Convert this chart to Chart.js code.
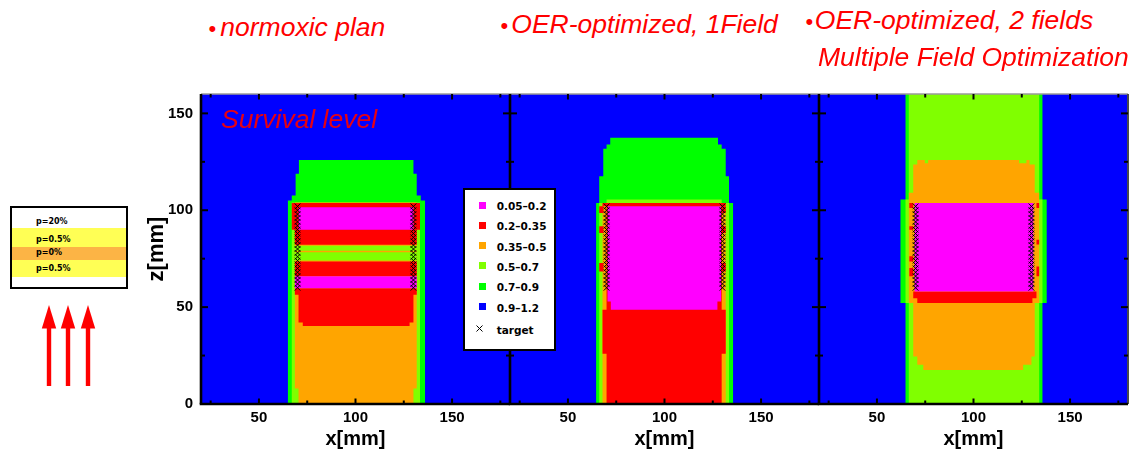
<!DOCTYPE html>
<html>
<head>
<meta charset="utf-8">
<script src="https://cdn.jsdelivr.net/npm/chart.js@4.4.1/dist/chart.umd.min.js"></script>
<style>
  html, body { margin: 0; padding: 0; background: #fff; }
  #stage { position: relative; width: 1142px; height: 452px; overflow: hidden; background: #fff;
           font-family: "Liberation Sans", Arial, sans-serif; }
  .title { position: absolute; font-style: italic; font-size: 26.5px; line-height: 30px; color: #ff0000; white-space: nowrap; z-index: 6; }
  .title .dot { font-size: 22px; font-style: normal; }
  .panel { position: absolute; top: 84px; }
  .panel canvas { display: block; }
  #survival { position: absolute; left: 221px; top: 104px; font-style: italic; font-size: 26.5px; line-height: 30px;
              color: #e60012; white-space: nowrap; z-index: 6; }
  #levels { position: absolute; left: 463px; top: 188px; width: 89px; height: 159px; border: 2px solid #000;
            background: #fff; z-index: 7; }
  .lrow { position: absolute; left: 14px; height: 20px; display: flex; align-items: center; white-space: nowrap;
          font-family: "DejaVu Sans", sans-serif; font-weight: bold; font-size: 10.5px; color: #000; }
  .sw { width: 7px; height: 7px; margin-right: 10.7px; transform: translateY(-1px); }
  .mk { width: 7px; height: 7px; margin-right: 10.7px; transform: translate(-3px, -2px); }
  #plan { position: absolute; left: 10px; top: 206px; width: 113.5px; height: 79px; border: 2px solid #000; background: #fff; }
  .band { position: absolute; left: 0; right: 0; }
  .prow { position: absolute; left: 24px; font-family: "DejaVu Sans", sans-serif; font-weight: bold; font-size: 8px;
          line-height: 10px; color: #000; white-space: nowrap; }
  #beams { position: absolute; left: 0; top: 0; }
</style>
</head>
<body>
<div id="stage">
  <div class="title" style="left:208.6px; top:12.3px;"><span class="dot">•</span><span style="margin-left:4px">normoxic plan</span></div>
  <div class="title" style="left:500.6px; top:8.8px;"><span class="dot">•</span><span style="margin-left:3px">OER-optimized, 1Field</span></div>
  <div class="title" style="left:805.5px; top:4.8px;"><span class="dot">•</span><span style="margin-left:1.6px">OER-optimized, 2 fields</span></div>
  <div class="title" style="left:818px; top:41.8px;">Multiple Field Optimization</div>

  <div class="panel" style="left:140px;"><canvas id="normoxic" width="375" height="368"></canvas></div>
  <div class="panel" style="left:500px;"><canvas id="oneField" width="324" height="368"></canvas></div>
  <div class="panel" style="left:809px;"><canvas id="twoFields" width="324" height="368"></canvas></div>

  <div id="survival">Survival level</div>
  <div id="levels"></div>

  <div id="plan">
    <div class="band" style="top:19.7px; height:19px; background:#ffff55;"></div>
    <div class="band" style="top:38.7px; height:13.3px; background:#fcb445;"></div>
    <div class="band" style="top:52px; height:17.3px; background:#ffff55;"></div>
    <div class="prow" style="top:9px;">p=20%</div>
    <div class="prow" style="top:27px;">p=0.5%</div>
    <div class="prow" style="top:40.3px;">p=0%</div>
    <div class="prow" style="top:56.3px;">p=0.5%</div>
  </div>

  <svg id="beams" width="140" height="452" viewBox="0 0 140 452">
    <g fill="#ff0000">
      <rect x="46.8" y="326" width="4.4" height="60"/>
      <polygon points="49,305 41.8,328.5 56.2,328.5"/>
      <rect x="65.8" y="326" width="4.4" height="60"/>
      <polygon points="68,305 60.8,328.5 75.2,328.5"/>
      <rect x="85.8" y="326" width="4.4" height="60"/>
      <polygon points="88,305 80.8,328.5 95.2,328.5"/>
    </g>
  </svg>
</div>

<script>
// Survival-level classes (legend order) and their fill colours
const levelLabels = ['0.05–0.2', '0.2–0.35', '0.35–0.5', '0.5–0.7', '0.7–0.9', '0.9–1.2'];
const levelColors = ['#ff00ff', '#ff0000', '#ffa500', '#80ff00', '#00ff00', '#0000ff'];
const PINK = 0, RED = 1, ORANGE = 2, LIME = 3, GREEN = 4, BLUE = 5;

// Axis tick values (mm)
const xTickValues = [50, 100, 150];
const yTickValues = [0, 50, 100, 150];
const xTickMarks = [25, 50, 75, 100, 125, 150, 175];
const yTickMarks = [25, 50, 75, 100, 125, 150];

// Target outline points (x columns and z rows, mm)
const targetX = [70, 130];
const targetZ = [60, 62, 64, 66, 68, 70, 72, 74, 76, 78, 80, 82, 84, 86, 88, 90, 92, 94, 96, 98, 100, 102];

// Whole computed field, survival 0.9-1.2
const fieldArea = [[20, 0], [20, 160], [180, 160], [180, 0]];

// --- normoxic plan: iso-survival regions [x, z] in mm ---
const nGreen = [[65, 0], [65, 105], [67, 105], [67, 107.6], [69, 107.6], [69, 118.8], [70.7, 118.8], [70.7, 125.9],
                [130, 125.9], [130, 118.8], [131.7, 118.8], [131.7, 107.6], [133.8, 107.6], [133.8, 105], [136, 105], [136, 0]];
const nLime = [[67, 0], [67, 104], [133.4, 104], [133.4, 0]];
const nOrange = [[70.5, 0], [70.5, 8], [68.6, 8], [68.6, 104], [131.7, 104], [131.7, 8], [130, 8], [130, 0]];
const nRedUpper = [[68.6, 82.2], [68.6, 90], [67, 90], [67, 103.8], [133.4, 103.8], [133.4, 90], [131.7, 90], [131.7, 82.2]];
const nLimeBand = [[68.6, 74.1], [68.6, 81.7], [131.7, 81.7], [131.7, 74.1]];
const nOrangeLine = [[68.6, 78.3], [68.6, 79.1], [131.7, 79.1], [131.7, 78.3]];
const nRedMiddle = [[68.6, 65.9], [68.6, 73.6], [131.7, 73.6], [131.7, 65.9]];
const nRedLower = [[72.7, 40.3], [72.7, 42.1], [70.5, 42.1], [70.5, 56.4], [68.6, 56.4], [68.6, 59.8],
                   [131.7, 59.8], [131.7, 56.4], [130, 56.4], [130, 42.1], [128, 42.1], [128, 40.3]];
const nPinkUpper = [[70.5, 90], [70.5, 101.6], [130, 101.6], [130, 90]];
const nPinkLower = [[68.6, 59.8], [68.6, 65.9], [131.7, 65.9], [131.7, 59.8]];

// --- OER-optimized, one field ---
const fGreen = [[64.6, 0], [64.6, 103.8], [66.2, 103.8], [66.2, 117.6], [68.3, 117.6], [68.3, 131.7], [70, 131.7], [70, 134],
                [71.9, 134], [71.9, 137.4], [127.7, 137.4], [127.7, 134], [129.6, 134], [129.6, 131.7], [131.7, 131.7],
                [131.7, 117.6], [133.4, 117.6], [133.4, 103.8], [135.5, 103.8], [135.5, 0]];
const fLime = [[66.2, 0], [66.2, 103.8], [70, 103.8], [70, 105.5], [129.6, 105.5], [129.6, 103.8], [133.4, 103.8], [133.4, 0]];
const fOrange = [[67.9, 0], [67.9, 103.8], [131.7, 103.8], [131.7, 0]];
const fRed = [[70, 0], [70, 26], [67.9, 26], [67.9, 48.6], [70, 48.6], [70, 102.1], [67.9, 102.1], [67.9, 103.8],
              [131.7, 103.8], [131.7, 102.1], [129.6, 102.1], [129.6, 48.6], [131.7, 48.6], [131.7, 26], [129.6, 26], [129.6, 0]];
const fRedEdge1 = [[66.2, 98.6], [66.2, 102.1], [68.4, 102.1], [68.4, 98.6]];
const fRedEdge2 = [[66.2, 88.3], [66.2, 91.7], [68.4, 91.7], [68.4, 88.3]];
const fRedEdge3 = [[66.2, 68.4], [66.2, 72.8], [68.4, 72.8], [68.4, 68.4]];
const fRedEdge4 = [[129.6, 98.6], [129.6, 102.1], [131.7, 102.1], [131.7, 98.6]];
const fRedEdge5 = [[129.6, 88.3], [129.6, 91.7], [131.7, 91.7], [131.7, 88.3]];
const fRedEdge6 = [[129.6, 68.4], [129.6, 72.8], [131.7, 72.8], [131.7, 68.4]];
const fPink = [[72.2, 48.6], [72.2, 52.9], [70.5, 52.9], [70.5, 102.1], [129.3, 102.1], [129.3, 52.9], [127.4, 52.9], [127.4, 48.6]];

// --- OER-optimized, two fields (MFO) ---
const mGreen = [[64.8, 0], [64.8, 52.1], [62.2, 52.1], [62.2, 105.5], [64.8, 105.5], [64.8, 160], [135.7, 160],
                [135.7, 105.5], [137.9, 105.5], [137.9, 52.1], [135.7, 52.1], [135.7, 0]];
const mLime = [[66.5, 0], [66.5, 52.1], [64.8, 52.1], [64.8, 105.5], [66.5, 105.5], [66.5, 160], [134, 160],
               [134, 105.5], [135.7, 105.5], [135.7, 52.1], [134, 52.1], [134, 0]];
const mOrange = [[74, 17.6], [74, 20.2], [70.9, 20.2], [70.9, 24.5], [68.8, 24.5], [68.8, 52.1], [66.5, 52.1], [66.5, 109],
                 [68.8, 109], [68.8, 123.6], [70.9, 123.6], [70.9, 125.9], [74.8, 125.9], [74.8, 124.2], [76.5, 124.2],
                 [76.5, 125.9], [123.6, 125.9], [123.6, 124.2], [127.4, 124.2], [127.4, 125.9], [129, 125.9], [129, 123.6],
                 [131.7, 123.6], [131.7, 109], [134, 109], [134, 52.1], [131.7, 52.1], [131.7, 24.5], [130, 24.5],
                 [130, 20.2], [125.7, 20.2], [125.7, 17.6]];
const mRed = [[70.9, 52.1], [70.9, 54.6], [68.8, 54.6], [68.8, 58.1], [132.6, 58.1], [132.6, 54.6], [130.5, 54.6], [130.5, 52.1]];
const mPink = [[69.5, 58.1], [69.5, 103.8], [131, 103.8], [131, 58.1]];
const mRedEdge1 = [[66.8, 101.2], [66.8, 103.8], [68.8, 103.8], [68.8, 101.2]];
const mRedEdge2 = [[66.8, 90], [66.8, 91.7], [68.8, 91.7], [68.8, 90]];
const mRedEdge3 = [[66.8, 73.6], [66.8, 76.2], [68.8, 76.2], [68.8, 73.6]];
const mRedEdge4 = [[66.8, 65.9], [66.8, 70.2], [68.8, 70.2], [68.8, 65.9]];
const mRedEdge5 = [[132.6, 101.2], [132.6, 103.8], [134, 103.8], [134, 101.2]];
const mRedEdge6 = [[132.6, 82.3], [132.6, 84.8], [134, 84.8], [134, 82.3]];
const mRedEdge7 = [[132.6, 65.9], [132.6, 71], [134, 71], [134, 65.9]];

// Painting order per panel: first entry lies underneath
const normoxicLayers = [
  [BLUE, fieldArea], [GREEN, nGreen], [LIME, nLime], [ORANGE, nOrange], [RED, nRedUpper], [LIME, nLimeBand],
  [ORANGE, nOrangeLine], [RED, nRedMiddle], [RED, nRedLower], [PINK, nPinkUpper], [PINK, nPinkLower]
];
const oneFieldLayers = [
  [BLUE, fieldArea], [GREEN, fGreen], [LIME, fLime], [ORANGE, fOrange], [RED, fRed],
  [RED, fRedEdge1], [RED, fRedEdge2], [RED, fRedEdge3], [RED, fRedEdge4], [RED, fRedEdge5], [RED, fRedEdge6], [PINK, fPink]
];
const twoFieldLayers = [
  [BLUE, fieldArea], [GREEN, mGreen], [LIME, mLime], [ORANGE, mOrange], [RED, mRed], [PINK, mPink],
  [RED, mRedEdge1], [RED, mRedEdge2], [RED, mRedEdge3], [RED, mRedEdge4], [RED, mRedEdge5], [RED, mRedEdge6], [RED, mRedEdge7]
];

// ---------------------------------------------------------------------------
const FONT = '"Liberation Sans", Arial, sans-serif';

// Frame lines and inward tick marks drawn on the chart area edges
const frameTicks = {
  id: 'frameTicks',
  afterDatasetsDraw(chart) {
    const { ctx, chartArea: a, scales: { x, y } } = chart;
    const seg = (x1, y1, x2, y2) => { ctx.beginPath(); ctx.moveTo(x1, y1); ctx.lineTo(x2, y2); ctx.stroke(); };
    ctx.save();
    ctx.lineCap = 'butt';
    ctx.strokeStyle = '#9a9a9a'; ctx.lineWidth = 1.4;
    seg(a.left, a.top, a.right, a.top);
    ctx.strokeStyle = '#4a4a4a'; ctx.lineWidth = 2;
    seg(a.right, a.top, a.right, a.bottom);
    ctx.strokeStyle = '#000'; ctx.lineWidth = 2;
    xTickMarks.forEach(v => {
      const px = x.getPixelForValue(v);
      const len = xTickValues.includes(v) ? 5.5 : 3.5;
      seg(px, a.bottom, px, a.bottom - len);
      seg(px, a.top, px, a.top + len);
    });
    yTickMarks.forEach(v => {
      const py = y.getPixelForValue(v);
      const len = yTickValues.includes(v) ? 7 : 4;
      seg(a.left, py, a.left + len, py);
      seg(a.right, py, a.right - len, py);
    });
    ctx.lineWidth = 2.6;
    seg(a.left - 1.3, a.bottom, a.right, a.bottom);
    seg(a.left, a.top, a.left, a.bottom);
    ctx.restore();
  }
};

function regionDataset(level, polygon, order) {
  const color = levelColors[level];
  return {
    data: polygon.map(([x, z]) => ({ x, y: z })),
    showLine: true,
    fill: 'shape',
    tension: 0,
    backgroundColor: color,
    borderColor: color,
    borderWidth: 0,
    pointRadius: 0,
    pointHoverRadius: 0,
    order
  };
}

function buildPanel(canvasId, layers, withYAxis, padLeft) {
  const datasets = layers.map(([level, polygon], i) => regionDataset(level, polygon, layers.length - i));
  const targetPoints = [];
  targetX.forEach(x => targetZ.forEach(z => targetPoints.push({ x, y: z })));
  datasets.push({
    data: targetPoints,
    showLine: false,
    pointStyle: 'crossRot',
    pointRadius: 4,
    pointHoverRadius: 4,
    borderColor: '#000',
    backgroundColor: '#000',
    borderWidth: 1,
    order: 0
  });

  const tickFont = { family: FONT, size: 15, weight: 'bold' };
  return new Chart(document.getElementById(canvasId), {
    type: 'scatter',
    data: { datasets },
    plugins: [frameTicks],
    options: {
      responsive: false,
      animation: false,
      events: [],
      layout: { padding: { left: padLeft, top: 10, right: 5, bottom: 0 } },
      plugins: { legend: { display: false }, tooltip: { enabled: false } },
      scales: {
        x: {
          type: 'linear', min: 20, max: 180,
          grid: { display: false, drawTicks: false },
          border: { display: false },
          afterBuildTicks: s => { s.ticks = xTickValues.map(v => ({ value: v })); },
          afterFit: s => { s.height = 48; s.paddingLeft = 0; s.paddingRight = 0; },
          ticks: { font: tickFont, color: '#000', padding: 5, maxRotation: 0, autoSkip: false },
          title: { display: true, text: 'x[mm]', color: '#000',
                   font: { family: FONT, size: 20, weight: 'bold' }, padding: { top: 0, bottom: 1 } }
        },
        y: {
          type: 'linear', min: 0, max: 160, display: withYAxis,
          grid: { display: false, drawTicks: false },
          border: { display: false },
          afterBuildTicks: s => { s.ticks = yTickValues.map(v => ({ value: v })); },
          afterFit: s => { s.width = withYAxis ? 61 : 0; s.paddingTop = 0; s.paddingBottom = 0; },
          ticks: { font: tickFont, color: '#000', padding: 8, autoSkip: false },
          title: { display: true, text: 'z[mm]', color: '#000',
                   font: { family: FONT, size: 22, weight: 'bold' }, padding: { top: 4, bottom: 0 } }
        }
      }
    }
  });
}

buildPanel('normoxic', normoxicLayers, true, 0);
buildPanel('oneField', oneFieldLayers, false, 10);
buildPanel('twoFields', twoFieldLayers, false, 10);

// Legend of survival classes plus the target marker
const legendBox = document.getElementById('levels');
const rowCenters = [16.3, 36.3, 56.6, 76.8, 97.3, 117.8];
levelLabels.forEach((label, i) => {
  const row = document.createElement('div');
  row.className = 'lrow';
  row.style.top = (rowCenters[i] - 10) + 'px';
  const sw = document.createElement('span');
  sw.className = 'sw';
  sw.style.background = levelColors[i];
  const txt = document.createElement('span');
  txt.textContent = label;
  row.appendChild(sw);
  row.appendChild(txt);
  legendBox.appendChild(row);
});
const targetRow = document.createElement('div');
targetRow.className = 'lrow';
targetRow.style.top = (140.3 - 10) + 'px';
targetRow.innerHTML = '<svg class="mk" width="7" height="7" viewBox="0 0 7 7"><path d="M0.5 0.5 L6.5 6.5 M6.5 0.5 L0.5 6.5" stroke="#000" stroke-width="1"/></svg><span>target</span>';
legendBox.appendChild(targetRow);
</script>
</body>
</html>
